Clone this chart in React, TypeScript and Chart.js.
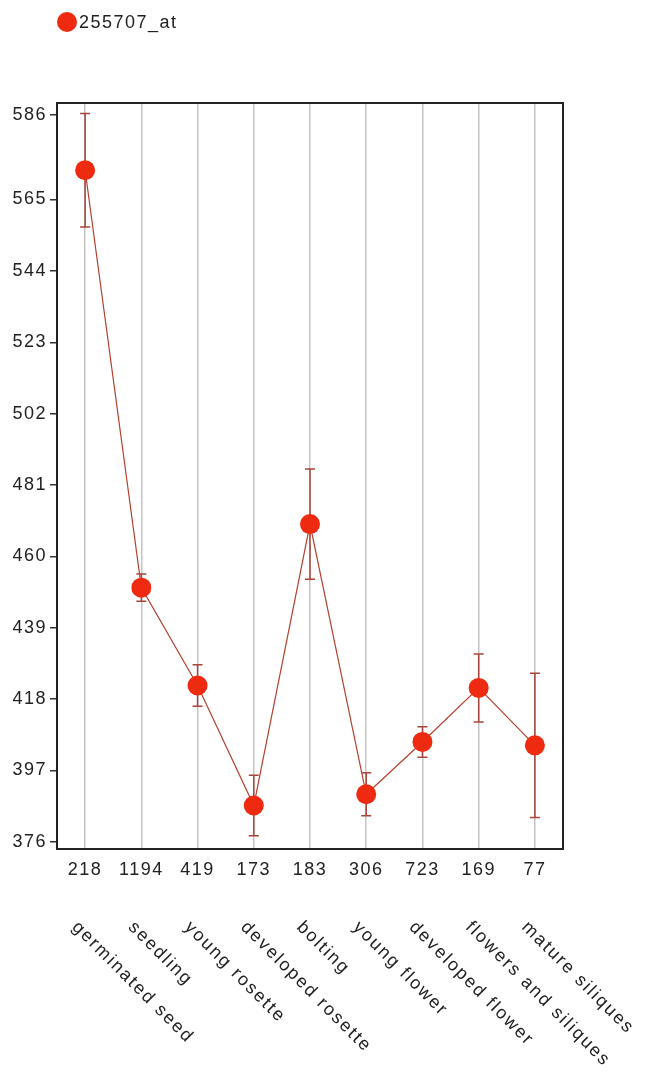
import React, { useEffect, useRef } from "react";
import { Chart, registerables } from "chart.js";

Chart.register(...registerables);

// Developmental stages, sample counts per stage, mean expression and error
const stages = [
  "germinated seed",
  "seedling",
  "young rosette",
  "developed rosette",
  "bolting",
  "young flower",
  "developed flower",
  "flowers and siliques",
  "mature siliques",
];
const sampleCounts = [218, 1194, 419, 173, 183, 306, 723, 169, 77];
const meanValues = [573.6, 450.8, 422.0, 386.7, 469.5, 390.0, 405.4, 421.3, 404.4];
const errorValues = [16.7, 4.0, 6.1, 8.9, 16.2, 6.3, 4.5, 10.0, 21.2];
const seriesName = "255707_at";

// Y axis ticks (position and printed label)
const yTickValues = [376, 397, 418, 439, 460, 481, 502, 523, 544, 565, 589.8];
const yTickLabels = ["376", "397", "418", "439", "460", "481", "502", "523", "544", "565", "586"];

const FONT = 'Arial, "Liberation Sans", sans-serif';
const POINT_COLOR = "#ee2a10";
const LINE_COLOR = "#b5402e";
const ERR_COLOR = "#a8443a";
const TEXT_COLOR = "#222222";

const spacingPlugin = {
  id: "spacing",
  beforeDraw(chart: any) {
    chart.ctx.letterSpacing = "1.5px";
  },
  afterDraw(chart: any) {
    chart.ctx.letterSpacing = "0px";
  },
};

const errorBarPlugin = {
  id: "errorBars",
  beforeDatasetsDraw(chart: any) {
    const { ctx, scales } = chart;
    const xs = scales.x;
    const ys = scales.y;
    ctx.save();
    ctx.strokeStyle = ERR_COLOR;
    ctx.lineWidth = 1.5;
    meanValues.forEach((m, i) => {
      const x = xs.getPixelForValue(i);
      const yHi = ys.getPixelForValue(m + errorValues[i]);
      const yLo = ys.getPixelForValue(m - errorValues[i]);
      ctx.beginPath();
      ctx.moveTo(x, yHi);
      ctx.lineTo(x, yLo);
      ctx.moveTo(x - 5, yHi);
      ctx.lineTo(x + 5, yHi);
      ctx.moveTo(x - 5, yLo);
      ctx.lineTo(x + 5, yLo);
      ctx.stroke();
    });
    ctx.restore();
  },
};

const framePlugin = {
  id: "frame",
  afterDraw(chart: any) {
    const { ctx, chartArea, scales } = chart;
    ctx.save();
    // plot box
    ctx.strokeStyle = "#222222";
    ctx.lineWidth = 2;
    ctx.strokeRect(chartArea.left, chartArea.top, chartArea.right - chartArea.left, chartArea.bottom - chartArea.top);

    // legend
    ctx.fillStyle = POINT_COLOR;
    ctx.beginPath();
    ctx.arc(67, 22, 10, 0, Math.PI * 2);
    ctx.fill();
    ctx.letterSpacing = "1.5px";
    ctx.fillStyle = TEXT_COLOR;
    ctx.font = `18px ${FONT}`;
    ctx.textAlign = "left";
    ctx.textBaseline = "middle";
    ctx.fillText(seriesName, 79, 23);

    // rotated stage names
    ctx.letterSpacing = "2px";
    ctx.textBaseline = "top";
    stages.forEach((name, i) => {
      const x = scales.x.getPixelForValue(i);
      ctx.save();
      ctx.translate(x - 4, chartArea.bottom + 69);
      ctx.rotate(Math.PI / 4);
      ctx.fillText(name, 0, 0);
      ctx.restore();
    });
    ctx.restore();
  },
};

export default function App() {
  const canvasRef = useRef<HTMLCanvasElement | null>(null);

  useEffect(() => {
    if (!canvasRef.current) return;
    const chart = new Chart(canvasRef.current, {
      type: "line",
      data: {
        labels: stages,
        datasets: [
          {
            label: seriesName,
            data: meanValues,
            borderColor: LINE_COLOR,
            borderWidth: 1.2,
            pointRadius: 10,
            pointHoverRadius: 10,
            pointBackgroundColor: POINT_COLOR,
            pointBorderColor: POINT_COLOR,
            pointBorderWidth: 0,
            tension: 0,
          },
        ],
      },
      options: {
        responsive: false,
        animation: false,
        devicePixelRatio: 1,
        layout: { padding: { top: 103, right: 89, left: 0, bottom: 0 } },
        plugins: {
          legend: { display: false },
          tooltip: { enabled: false },
        },
        scales: {
          x: {
            type: "category",
            offset: true,
            grid: {
              color: "#c4c4c4",
              lineWidth: 1.5,
              drawTicks: false,
            },
            border: { display: true, color: "#222222", width: 2 },
            ticks: {
              autoSkip: false,
              maxRotation: 0,
              minRotation: 0,
              padding: 10,
              color: TEXT_COLOR,
              font: { family: FONT, size: 18 },
              callback: (_v: any, i: number) => String(sampleCounts[i]),
            },
            afterFit: (scale: any) => {
              scale.height = 230;
            },
          },
          y: {
            type: "linear",
            min: 373.9,
            max: 593.4,
            grid: {
              drawOnChartArea: false,
              drawTicks: true,
              tickLength: 7,
              color: "#333333",
              lineWidth: 1.5,
            },
            border: { display: true, color: "#222222", width: 2 },
            afterBuildTicks: (scale: any) => {
              scale.ticks = yTickValues.map((v) => ({ value: v }));
            },
            ticks: {
              padding: 3,
              color: TEXT_COLOR,
              font: { family: FONT, size: 18 },
              callback: (_v: any, i: number) => yTickLabels[i],
            },
            afterFit: (scale: any) => {
              scale.width = 57;
            },
          },
        },
      },
      plugins: [spacingPlugin, errorBarPlugin, framePlugin],
    });
    return () => chart.destroy();
  }, []);

  return (
    <div style={{ position: "absolute", left: 0, top: 0, width: 652, height: 1079, background: "#ffffff" }}>
      <canvas ref={canvasRef} width={652} height={1079} />
    </div>
  );
}
